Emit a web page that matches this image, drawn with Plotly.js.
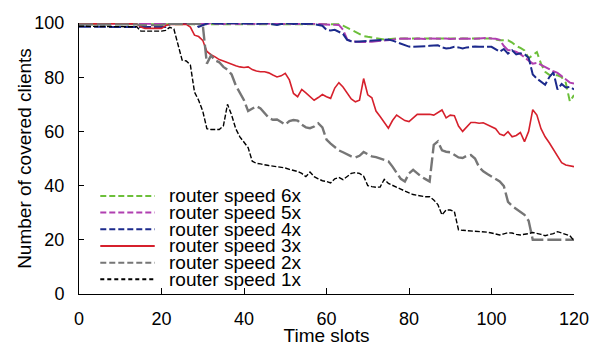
<!DOCTYPE html>
<html>
<head>
<meta charset="utf-8">
<script src="https://cdn.plot.ly/plotly-3.0.1.min.js"></script>
<style>html,body{margin:0;padding:0;background:#fff}#chart{width:595px;height:346px}</style>
</head>
<body>
<div id="chart"></div>
<script>
// ---- data ----
var timeSlots = [];
for (var i = 0; i <= 120; i++) timeSlots.push(i);

var speed6x = [99.5,99.5,99.5,99.5,99.5,99.5,99.5,99.5,99.5,99.5,99.5,99.5,99.5,99.5,99.5,99.5,99.5,99.5,99.5,99.5,
  99.5,99.5,99.6,99.6,99.7,99.6,99.6,99.7,99.6,99.6,99.7,99.6,99.6,99.7,99.6,99.6,99.7,99.6,99.6,99.7,
  99.6,99.6,99.7,99.6,99.6,99.7,99.6,99.6,99.7,99.6,99.6,99.7,99.6,99.6,99.7,99.6,99.6,99.7,99.6,99.6,
  99.6,99.6,99.6,99.5,99,98.2,97.6,96.8,96,95.2,94.9,94.6,94.3,94,93.9,94,94.2,94.3,94.3,94.3,
  94.3,94.3,94.3,94.3,94.3,94.3,94.3,94.3,94.3,94.3,94.3,94.3,94.3,94.3,94.3,94.3,94.3,94.3,94.3,94.3,
  94.3,93.9,93.6,93.6,93.6,92.8,91.5,90.8,89.9,87,88,89.3,85,82,80.9,80.7,80.7,80,78,71,73.4];

var speed5x = [99.8,99.8,99.8,99.8,99.8,99.8,99.8,99.8,99.8,99.8,99.8,99.8,99.8,99.8,99.8,99.6,99.6,99.6,99.6,99.6,
  99.6,99.6,99.7,99.8,99.6,99.7,99.9,99.7,99.6,99.8,99.7,99.6,99.9,99.7,99.8,99.6,99.7,99.9,99.7,99.6,
  99.8,99.7,99.6,99.8,99.7,99.9,99.7,99.6,99.8,99.7,99.6,99.8,99.7,99.6,99.8,99.7,99.6,99.8,99.7,99.4,
  99.3,99.3,99.4,99.3,97.5,94,93.2,93,93,93,93,93.1,93.3,93.4,93.5,93.6,93.8,94.1,94.3,94.3,
  94.2,94.1,94.3,94.2,94.1,94.3,94.2,94.1,94.2,94.3,94.1,94.2,94.1,94.3,94.2,94.1,94.2,94.3,94.4,94.5,
  94.3,94.2,93.8,91.5,90,89.9,89.3,88.5,87.3,86.3,85,85.3,84.6,83.8,83,82.2,81.6,80.4,79.2,78,77.7];

var speed4x = [98.6,98.6,98.6,98.6,98.6,98.6,98.6,98.6,98.6,98.6,98.6,98.6,98.6,98.6,98.6,98.5,98.5,98.5,98.5,98.5,
  98.5,98.5,99.6,99.6,99.6,99.6,99.6,99.6,99.6,98.6,99.2,99.8,100,99.8,99.9,99.7,99.8,100,99.9,99.7,
  99.8,99.9,99.8,99.6,99.8,99.9,99.8,99.6,99.3,99.6,99.7,99.9,99.6,99.8,99.7,99.6,99.8,99.6,99.3,99,
  97.5,97.2,97.5,96.8,96,93.8,93.3,93.1,93.2,93.5,93.5,93.6,93.6,93.7,93.8,93.9,93.5,93,92.5,91.8,
  91.3,91.2,91.2,91.2,91.4,91.6,91.7,91.8,91,90.6,90.8,91.2,91,90.6,91,91.2,91.3,91.2,91.1,91.2,
  91.2,90.2,89.4,90.4,88.7,89.9,88.4,88.8,88.5,87.2,81,79.5,78.5,77.2,80,81.8,75.5,77.5,76.2,76.4,75.5];

var speed3x = [99.7,99.7,99.7,99.7,99.7,99.7,99.7,99.7,99.7,99.7,99.7,99.7,99.7,99.7,99.7,98.5,98,98,98,98,
  98,99,99.5,99.6,99.5,99.6,99.5,98.5,95.5,95,93.6,89.5,88.3,87.5,86.5,86,85.4,84.6,84.2,83.8,
  83.6,83.8,82.8,82.3,82,82,81.6,80.8,80.1,80.5,81.4,79,74,72.8,75.5,74.2,73,71.5,72.5,73.6,
  72.8,72.2,76,78,76.4,74,72,70.9,71.5,79.5,73.5,72.4,67.5,65.5,63.5,61.2,64,66,65,64,
  63.6,65,66.3,66.3,66.3,66.3,66,67,67.9,65,66,65.8,62,60,61.5,63.3,63.3,63,63.2,62.5,
  62,61,59,58.5,59.9,58,58.5,59.6,56.2,60,68,66,61,58,55.8,53.5,51,48.5,47.6,47.2,47];

var speed2x = [99.5,99.5,99.5,99.5,99.5,99.5,99.5,99.5,99.5,99.5,99.5,99.5,99.5,99.5,99.5,99.2,99.2,99.2,99.2,99.2,
  99.2,99.7,99.7,99.7,99.7,99.7,99.7,99.7,99.7,99.7,99.3,85,88,86.2,85.5,83.8,82.8,81,77,74,
  71.5,67.5,68.5,69.3,68.5,66.8,65,64.3,64.4,63.5,62.5,63.8,64.2,64,62.5,61.5,61.2,61.8,63,61.5,
  57,55.5,54.3,53,52.3,51.5,50.8,50.4,51,52.4,51.5,50.8,50.5,50,49.6,49,47,44.5,42.5,41.5,
  44.5,45.8,44.5,43.3,42.4,41.5,55,56.3,53,52.5,52.3,51.2,50.4,50.2,51,51.3,50,46.8,45.3,44.3,
  43.3,42.3,41.5,39.8,34,32.5,31.4,30.3,29.2,27,20,20,20,20,20,20,20,20,20,20,20];

var speed1x = [98.8,98.8,98.8,98.8,98.8,98.8,98.8,98.8,98.8,98.8,98.8,98.8,98.8,98.8,98.6,97,97,97,97,97,
  97,97.3,98.4,97.8,92.5,86.3,86,84.5,74.5,71.5,67.5,61,60.7,60.7,60.7,62,70,66,61,58,
  56,54,49,48.2,48,47.6,47.4,47.2,47,46.8,46.5,46,45.6,45.2,44.5,43.3,45,43.3,42.5,41.8,
  41.5,41,42.5,43,42.2,43.5,44.5,44.8,44.5,43.5,40,39.6,39.4,39.5,42.3,40.8,40,39.3,38.7,38,
  37.3,36.7,36.4,36.1,35.9,35.9,34.7,33,29.2,31,31,30.4,23.7,23.5,23.4,23.3,23.2,23.1,23,22.8,
  22.5,22.2,21.8,22.2,22.6,22.5,22,21.8,22,22.3,22.7,22.4,22,21.5,21.8,22.3,23,22.5,21.8,21.5,19.7];

var seriesNames = ["router speed 6x","router speed 5x","router speed 4x","router speed 3x","router speed 2x","router speed 1x"];
var seriesValues = [speed6x, speed5x, speed4x, speed3x, speed2x, speed1x];
var xTickVals = [0,20,40,60,80,100,120];
var yTickVals = [0,20,40,60,80,100];

// ---- styles ----
var colors = ["#6cbf3a","#b03fb0","#1c2a8c","#d6202c","#767676","#000000"];
var plotDash = ["8px,4px","12px,3px","12px,3px","solid","14px,4px","5px,2px"];
var legendDash = ["6px,3px","6px,3px","6px,3px","solid","6px,3px","4px,3px"];
var widths = [2,2,2,1.6,2.4,1.4];
var FONT = "Liberation Sans, Arial, sans-serif";

var traces = seriesNames.map(function (n, k) {
  return {x: timeSlots, y: seriesValues[k], name: n, type: "scatter", mode: "lines",
    line: {color: colors[k], width: widths[k], dash: plotDash[k]}, showlegend: false};
});

// custom legend (tight gnuplot-style spacing)
var shapes = [], annotations = [];
var lgTop = 0.362, lgStep = 0.0616;
seriesNames.forEach(function (n, k) {
  var yy = lgTop - k * lgStep;
  shapes.push({type: "line", xref: "paper", yref: "paper", x0: 0.043, x1: 0.153, y0: yy, y1: yy,
    line: {color: colors[k], width: 2, dash: legendDash[k]}});
  annotations.push({xref: "paper", yref: "paper", x: 0.178, y: yy, xanchor: "left", yanchor: "middle",
    text: n, showarrow: false, font: {family: FONT, size: 19, color: "#000"}});
});

var layout = {
  width: 595, height: 346,
  margin: {l: 79, r: 21, t: 23, b: 52},
  paper_bgcolor: "#fff", plot_bgcolor: "#fff",
  font: {family: FONT, size: 18, color: "#000"},
  showlegend: false,
  xaxis: {range: [0, 120], tickvals: xTickVals, ticks: "inside", ticklen: 6, tickcolor: "#000",
    showline: true, linecolor: "#000", linewidth: 1, showgrid: false, zeroline: false,
    ticklabelstandoff: 8, tickfont: {family: FONT, size: 18},
    title: {text: "Time slots", font: {family: FONT, size: 19}, standoff: 4}},
  yaxis: {range: [0, 100], tickvals: yTickVals, ticks: "inside", ticklen: 5, tickcolor: "#000",
    showline: true, linecolor: "#000", linewidth: 1, showgrid: false, zeroline: false,
    ticklabelstandoff: 10, tickfont: {family: FONT, size: 18},
    title: {text: "Number of covered clients", font: {family: FONT, size: 19}}},
  shapes: shapes,
  annotations: annotations
};

Plotly.newPlot("chart", traces, layout, {staticPlot: true, displayModeBar: false});
</script>
</body>
</html>
